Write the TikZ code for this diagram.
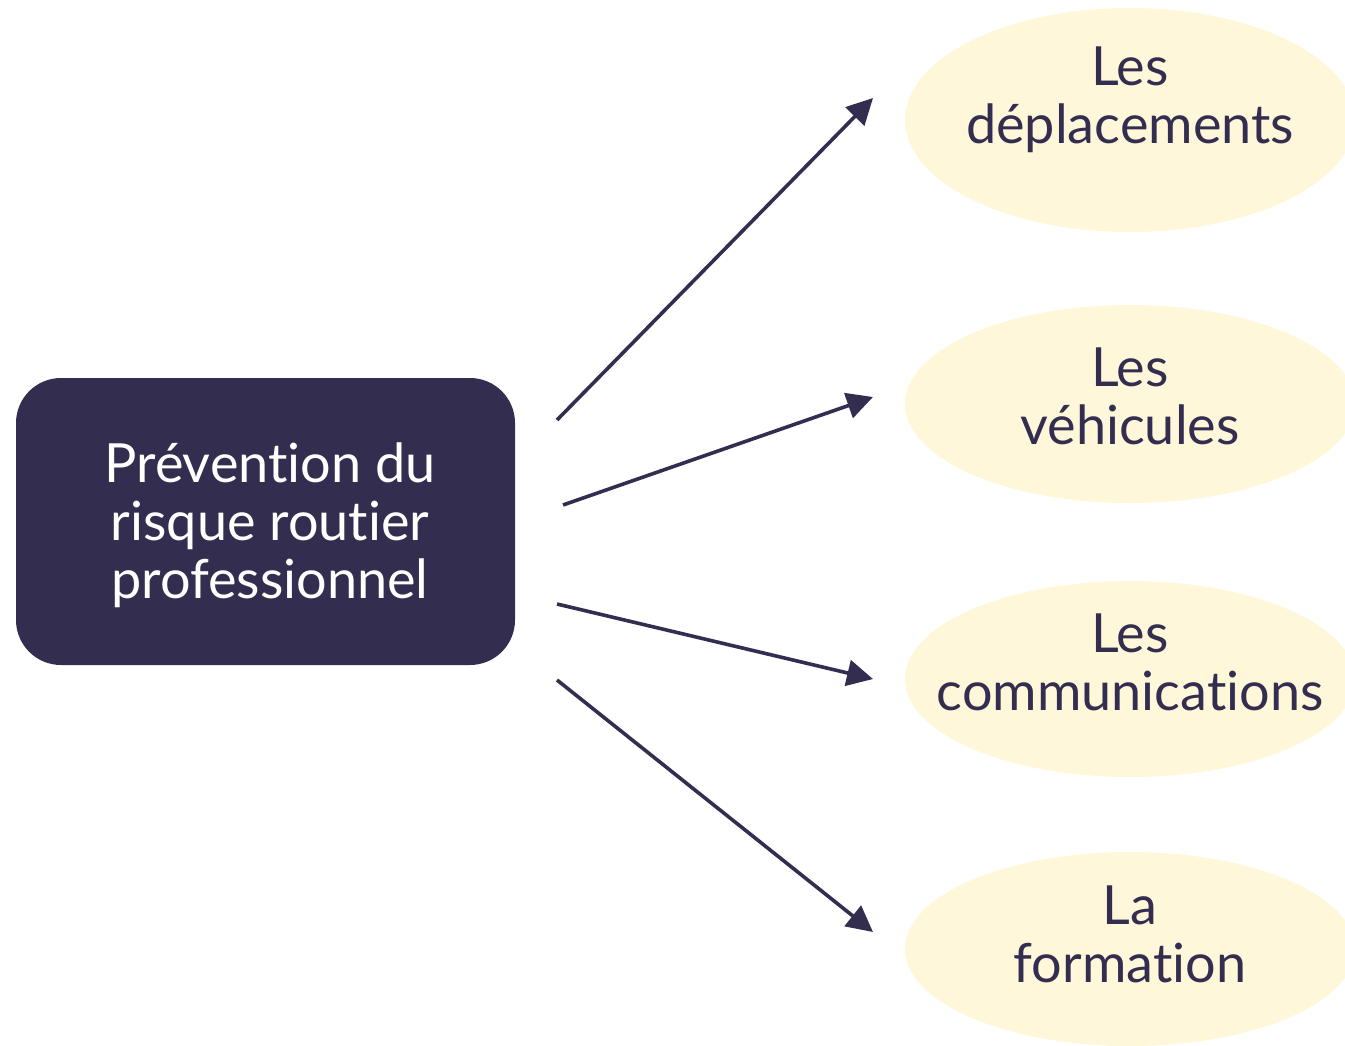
\documentclass[tikz,border=0pt]{standalone}
\usepackage{fontspec}
\setmainfont{Lato}[Ligatures={NoCommon,NoRare}]
\usetikzlibrary{shapes.geometric,arrows.meta}
\definecolor{navy}{HTML}{332E50}
\definecolor{cream}{HTML}{FFF7D9}

\begin{document}
\begin{tikzpicture}[x=1pt,y=-1pt]
					\useasboundingbox (0,0) rectangle (1345,1045);
					\tikzstyle{every node}=[font=\fontsize{54}{58}\selectfont, align=center];
					\tikzstyle{themebox}=[ellipse, fill=cream, inner sep=0pt, minimum width=450pt];
					\tikzstyle{themetext}=[text=navy];
					\tikzstyle{link}=[draw=navy, line width=3.6pt, -{Triangle[length=26pt,width=26pt]}];
					\path (265.5,521.5) node[fill=navy, rounded corners=45pt, minimum width=499pt, minimum height=287pt] (prev) {};
					\path (270,525) node[text=white] (ptext) {Prévention du\\risque routier\\professionnel};
					\path (1130,120) node[themebox, minimum height=224pt] (e1) {};
					\path (1130,404) node[themebox, minimum height=198pt] (e2) {};
					\path (1130,679) node[themebox, minimum height=196pt] (e3) {};
					\path (1130,949) node[themebox, minimum height=194pt] (e4) {};
					\path (1130,100) node[themetext] (t1) {Les\\déplacements};
					\path (1130,396) node[themetext] (t2) {Les\\véhicules};
					\path (1130,662) node[themetext] (t3) {Les\\communications};
					\path (1130,934) node[themetext] (t4) {La\\formation};
					\coordinate (s1) at (557,420);
					\coordinate (s2) at (563,505);
					\coordinate (s3) at (557,604);
					\coordinate (s4) at (557,680);
					\coordinate (h1) at (873,98);
					\coordinate (h2) at (873,397);
					\coordinate (h3) at (873,679);
					\coordinate (h4) at (873,932);
					\draw[link] (s1) -- (h1);
					\draw[link] (s2) -- (h2);
					\draw[link] (s3) -- (h3);
					\draw[link] (s4) -- (h4);
					\end{tikzpicture}
\end{document}
